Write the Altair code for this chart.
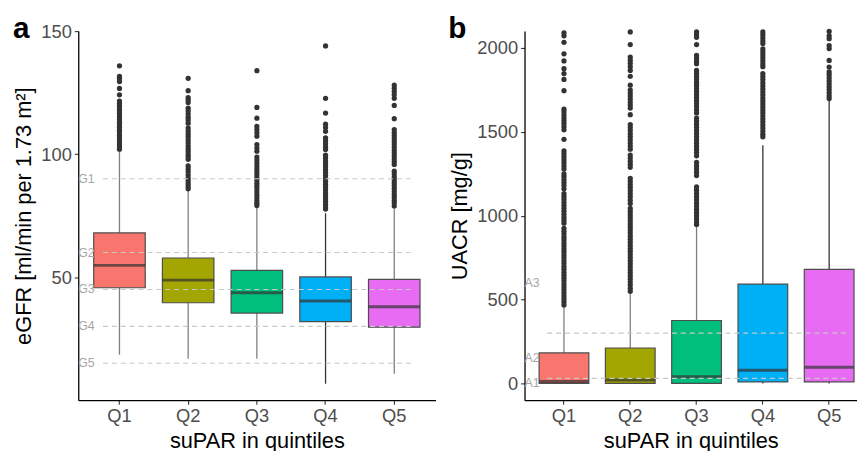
import altair as alt
import pandas as pd

quintiles = ["Q1", "Q2", "Q3", "Q4", "Q5"]
fills = ["#F8766D", "#A3A500", "#00BF7D", "#00B0F6", "#E76BF3"]

# ---- panel a: eGFR ----
egfr_lower = [45.7, 39.6, 35.4, 31.9, 29.7]
egfr_median = [54.8, 48.8, 43.7, 40.3, 38.0]
egfr_upper = [68.0, 57.8, 52.8, 50.1, 49.1]
egfr_whisk_lo = [18.5, 16.8, 16.8, 6.7, 10.8]
egfr_whisk_hi = [101.3, 85.2, 78.6, 76.0, 77.6]
egfr_whisk_color = ["#7f7f7f", "#7f7f7f", "#7f7f7f", "#333333", "#7f7f7f"]

egfr_out_q1 = [135.9, 131.6, 130.8, 129.5, 126.7, 124.1, 121.6, 120.6, 119.5, 118.2, 117.1,
               116.3, 115.2, 114.1, 113.0, 111.8, 110.9, 109.7, 108.6, 107.5, 106.4, 105.3,
               104.2, 103.1, 102.0]
egfr_out_q2 = [130.8, 125.8, 123.0, 122.1, 121.0, 118.7, 117.5, 116.3, 115.0, 113.9, 112.6,
               110.6, 109.4, 108.2, 107.1, 105.8, 104.6, 103.4, 102.2, 101.1, 99.9, 98.9, 97.9,
               95.2, 94.0, 92.8, 91.5, 90.3, 89.2, 88.0, 86.9, 85.9]
egfr_out_q3 = [133.9, 119.0, 114.6, 111.3, 110.0, 108.7, 107.3, 103.9, 102.5, 101.2, 98.8,
               97.6, 96.4, 95.2, 94.0, 92.8, 91.7, 90.5, 89.3, 88.1, 87.0, 85.8, 84.6, 83.4,
               82.3, 81.1, 80.0, 79.1]
egfr_out_q4 = [144.0, 122.7, 116.7, 112.2, 110.8, 109.3, 106.6, 105.4, 104.2, 103.0, 101.9,
               99.6, 98.4, 97.2, 96.1, 94.9, 93.7, 92.5, 91.4, 90.2, 89.0, 87.8, 86.7, 85.5,
               84.3, 83.1, 82.0, 80.8, 79.6, 78.5, 77.7]
egfr_out_q5 = [128.1, 126.8, 125.5, 124.1, 122.7, 119.8, 114.4, 110.0, 108.8, 107.6, 106.4,
               105.2, 104.1, 102.9, 101.7, 100.5, 99.3, 98.1, 97.0, 95.8, 93.1, 91.9, 90.7,
               89.5, 88.3, 87.2, 86.0, 84.8, 83.6, 82.4, 81.2, 80.1, 78.9]

egfr_ref_values = [90, 60, 45, 30, 15]
egfr_ref_labels = ["G1", "G2", "G3", "G4", "G5"]

# ---- panel b: UACR ----
uacr_lower = [0, 0, 0, 9, 9]
uacr_median = [11, 21, 40, 78, 97]
uacr_upper = [182, 211, 375, 592, 680]
uacr_whisk_lo = [0, 0, 0, 0, 0]
uacr_whisk_hi = [458, 535, 935, 1419, 1685]
uacr_whisk_color = ["#7f7f7f", "#7f7f7f", "#7f7f7f", "#333333", "#333333"]

uacr_out_q1 = [2090, 2072, 2033, 1965, 1922, 1876, 1847, 1812, 1745, 1635, 1618, 1600, 1583,
               1566, 1548, 1530, 1512, 1455, 1386, 1368, 1350, 1332, 1314, 1296, 1278, 1249,
               1232, 1214, 1197, 1180, 1160, 1131, 1113, 1096, 1078, 1061, 1043, 1026, 1008,
               990, 973, 955, 925, 907, 890, 872, 855, 837, 820, 802, 785, 767, 750, 732, 715,
               697, 680, 662, 645, 627, 610, 592, 575, 557, 540, 522, 505, 487, 468]
uacr_out_q2 = [2095, 2020, 1945, 1927, 1908, 1888, 1866, 1831, 1778, 1749, 1731, 1713, 1695,
               1677, 1659, 1641, 1602, 1543, 1525, 1507, 1488, 1470, 1452, 1433, 1415, 1396,
               1361, 1343, 1324, 1306, 1288, 1223, 1205, 1186, 1168, 1150, 1131, 1112, 1092,
               1072, 1043, 1025, 1006, 988, 970, 951, 933, 915, 896, 878, 860, 842, 823, 805,
               787, 768, 750, 732, 714, 695, 677, 659, 641, 622, 604, 586, 567, 549]
uacr_out_q3 = [2095, 2078, 2063, 2020, 1955, 1938, 1921, 1906, 1866, 1848, 1830, 1812, 1794,
               1776, 1758, 1740, 1722, 1704, 1686, 1668, 1650, 1631, 1612, 1582, 1564, 1545,
               1527, 1508, 1489, 1470, 1451, 1432, 1413, 1395, 1376, 1357, 1318, 1298, 1279,
               1259, 1239, 1171, 1152, 1133, 1114, 1095, 1076, 1057, 1038, 1019, 1000, 981,
               962, 948]
uacr_out_q4 = [2095, 2078, 2060, 2042, 2026, 1994, 1976, 1958, 1940, 1922, 1904, 1888, 1847,
               1829, 1811, 1792, 1774, 1756, 1738, 1720, 1702, 1684, 1666, 1648, 1630, 1612,
               1594, 1576, 1558, 1540, 1522, 1504, 1486, 1470]
uacr_out_q5 = [2098, 2072, 2055, 2014, 1996, 1925, 1886, 1857, 1840, 1822, 1804, 1786, 1768,
               1750, 1732, 1714, 1698]

uacr_ref_values = [30, 300]
uacr_label_values = [5, 150, 600]
uacr_labels = ["A1", "A2", "A3"]

FONT = "Liberation Sans"


def build_panel(lower, median, upper, wlo, whi, wcol, outs, ref_vals, lab_vals, labs,
                ydomain, yticks, ytitle, width, height, pad_outer, align, bandw,
                ref_x0, ref_x1, letter, letter_x, letter_y):
    box_df = pd.DataFrame({"q": quintiles, "lower": lower, "median": median, "upper": upper,
                           "lo": wlo, "hi": whi, "wc": wcol, "fill": fills})
    out_rows = []
    for q, vals in zip(quintiles, outs):
        for v in vals:
            out_rows.append({"q": q, "v": v})
    out_df = pd.DataFrame(out_rows)
    ref_df = pd.DataFrame({"v": ref_vals})
    lab_df = pd.DataFrame({"v": lab_vals, "lab": labs})
    letter_df = pd.DataFrame({"t": [letter]})

    xscale = alt.Scale(type="band", domain=quintiles, paddingInner=0.25,
                       paddingOuter=pad_outer, align=align)
    xaxis = alt.Axis(title="suPAR in quintiles", labelAngle=0)
    yscale = alt.Scale(domain=ydomain, nice=False, zero=False)
    yaxis = alt.Axis(values=yticks, title=ytitle, grid=False, format="d")

    def X():
        return alt.X("q:N", scale=xscale, axis=xaxis)

    whisk = alt.Chart(box_df).mark_rule(strokeWidth=1.3).encode(
        x=X(),
        y=alt.Y("lo:Q", scale=yscale, axis=yaxis, title=ytitle),
        y2="hi:Q",
        color=alt.Color("wc:N", scale=None),
    )
    box = alt.Chart(box_df).mark_bar(stroke="#4d4d4d", strokeWidth=1.2).encode(
        x=X(),
        y=alt.Y("lower:Q", scale=yscale, axis=yaxis, title=ytitle),
        y2="upper:Q",
        fill=alt.Fill("fill:N", scale=None),
    )
    med = alt.Chart(box_df).mark_tick(color="#333333", thickness=3, size=bandw).encode(
        x=X(),
        y=alt.Y("median:Q", scale=yscale, axis=yaxis, title=ytitle),
    )
    out = alt.Chart(out_df).mark_circle(size=28, color="#333333", opacity=1).encode(
        x=X(),
        y=alt.Y("v:Q", scale=yscale, axis=yaxis, title=ytitle),
    )
    refs = alt.Chart(ref_df).mark_rule(color="#c8c8c8", strokeDash=[5, 4], strokeWidth=1.1).encode(
        x=alt.value(ref_x0), x2=alt.value(ref_x1),
        y=alt.Y("v:Q", scale=yscale, axis=yaxis, title=ytitle),
    )
    labels = alt.Chart(lab_df).mark_text(align="left", baseline="middle", fontSize=12.5,
                                         color="#a6a6a6", font=FONT).encode(
        x=alt.value(0),
        y=alt.Y("v:Q", scale=yscale, axis=yaxis, title=ytitle),
        text="lab:N",
    )
    let = alt.Chart(letter_df).mark_text(align="left", baseline="alphabetic", fontSize=30,
                                         fontWeight="bold", color="black", font=FONT).encode(
        x=alt.value(letter_x), y=alt.value(letter_y), text="t:N",
    )
    return alt.layer(whisk, box, med, out, refs, labels, let).properties(width=width, height=height)


panel_a = build_panel(egfr_lower, egfr_median, egfr_upper, egfr_whisk_lo, egfr_whisk_hi,
                      egfr_whisk_color,
                      [egfr_out_q1, egfr_out_q2, egfr_out_q3, egfr_out_q4, egfr_out_q5],
                      egfr_ref_values, egfr_ref_values, egfr_ref_labels,
                      [0, 150], [50, 100, 150], "eGFR [ml/min per 1.73 m²]",
                      361, 373, 0.225, 0.5, 52, 25, 337, "a", -66, 7)

panel_b = build_panel(uacr_lower, uacr_median, uacr_upper, uacr_whisk_lo, uacr_whisk_hi,
                      uacr_whisk_color,
                      [uacr_out_q1, uacr_out_q2, uacr_out_q3, uacr_out_q4, uacr_out_q5],
                      uacr_ref_values, uacr_label_values, uacr_labels,
                      [-100, 2100], [0, 500, 1000, 1500, 2000], "UACR [mg/g]",
                      336, 373, 0.1325, 0.83, 50, 23, 326, "b", -77, 7)

chart = alt.hconcat(panel_a, panel_b, spacing=13).properties(
    padding={"left": 5, "top": 4, "right": 0, "bottom": 0}
).configure_view(stroke=None).configure_axis(
    domainColor="black", domainWidth=1.3, tickColor="#333333", tickSize=4, tickWidth=1.1,
    labelColor="#4d4d4d", labelFontSize=18.5, labelFont=FONT, labelPadding=3,
    titleColor="black", titleFontSize=22, titleFont=FONT, titleFontWeight="normal",
    titlePadding=5, grid=False,
)

chart.save("out.html", embed_options={"renderer": "svg", "actions": False})
